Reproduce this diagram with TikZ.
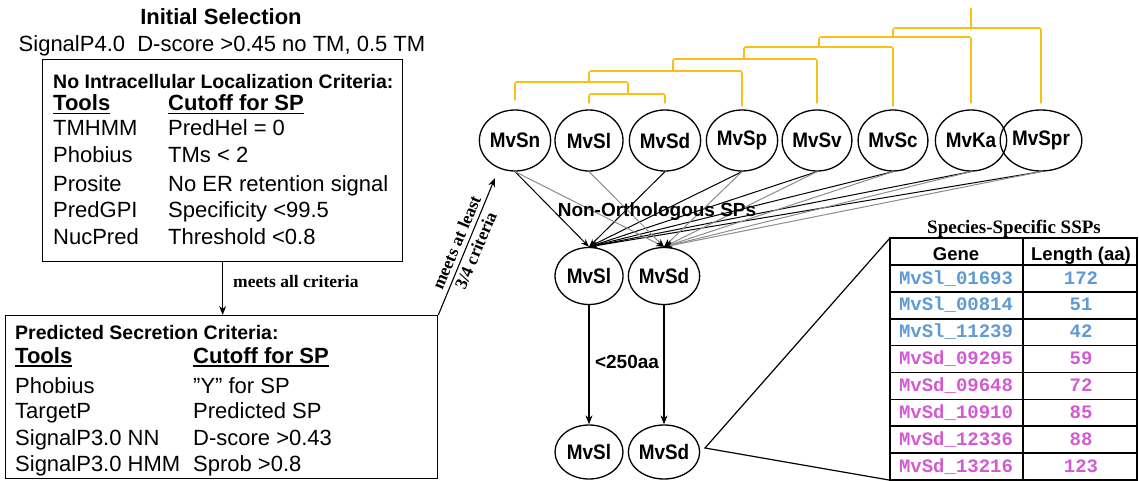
\documentclass[tikz,border=0pt]{standalone}
\usepackage{fontspec}
\setmainfont{Liberation Sans}
\newfontfamily\tnr{Liberation Serif}
\newfontfamily\cour{Liberation Mono}
\newfontfamily\narrowsans[FakeStretch=0.9]{Liberation Sans}
\usetikzlibrary{arrows.meta,shapes.geometric}
\definecolor{treecol}{RGB}{250,190,20}
\definecolor{geneblue}{RGB}{95,155,210}
\definecolor{genemag}{RGB}{210,90,210}
\newcommand\myul[1]{\setbox0\hbox{#1}\rlap{\rule[-3.5pt]{\wd0}{1.8pt}}\box0}
\newcommand\fs[1]{\fontsize{#1}{#1}\selectfont}
\begin{document}
\begin{tikzpicture}[x=1pt,y=-1pt,
  lbl/.style={inner sep=0pt,anchor=base west,font=\fs{22}},
  hdr/.style={inner sep=0pt,anchor=base west,font=\fs{19.5}\bfseries},
  colh/.style={inner sep=0pt,anchor=base west,font=\fs{22}\bfseries},
  boxs/.style={draw,line width=1.3pt,inner sep=0pt,anchor=north west},
  spc/.style={ellipse,draw,line width=1.3pt,minimum width=68pt,minimum height=61pt,inner sep=0pt,font=\fs{21}\narrowsans\bfseries},
  spm/.style={spc,minimum height=57pt},
  trl/.style={draw=treecol,line width=1.6pt,rounded corners=2pt},
  arr/.style={-{Stealth[length=9pt,width=7pt]},line width=1.1pt},
  arrk/.style={-{Stealth[length=8pt,width=6pt]},line width=1pt,black},
  arrg/.style={-{Stealth[length=8pt,width=6pt,color=black]},line width=1pt,black!45},
  tbl/.style={line width=1.6pt},
  ser/.style={font=\fontsize{17.5}{21}\selectfont\tnr\bfseries,inner sep=0pt}]
\useasboundingbox (0,0) rectangle (1139,481);

% ---------- left part ----------
\node[inner sep=0pt,anchor=base,font=\fs{22}\bfseries] (init) at (221,25) {Initial Selection};
\node[inner sep=0pt,anchor=base,font=\fs{22}] (sp4) at (222,52) {SignalP4.0\ \ D-score >0.45 no TM, 0.5 TM};

\node[boxs,minimum width=360pt,minimum height=202pt] (b1) at (42,59) {};
\node[hdr] (b1h) at (53,89) {No Intracellular Localization Criteria:};
\node[colh] (b1t) at (53,111) {\myul{Tools}};
\node[colh] (b1c) at (168,111) {\myul{Cutoff for SP}};
\foreach \i/\y/\a/\b in {1/136/TMHMM/PredHel = 0,2/163/Phobius/TMs < 2,3/191/Prosite/No ER retention signal,4/217/PredGPI/Specificity <99.5,5/244/NucPred/Threshold <0.8}{
  \node[lbl] (b1a\i) at (53,\y) {\a};
  \node[lbl] (b1b\i) at (168,\y) {\b};
}

\node[boxs,minimum width=432pt,minimum height=163pt] (b2) at (5,315) {};
\node[hdr] (b2h) at (15,339) {Predicted Secretion Criteria:};
\node[colh] (b2t) at (15,363) {\myul{Tools}};
\node[colh] (b2c) at (193,363) {\myul{Cutoff for SP}};
\foreach \i/\y/\a/\b in {1/393/Phobius/”Y” for SP,2/418/TargetP/Predicted SP,3/445/SignalP3.0 NN/D-score >0.43,4/471/SignalP3.0 HMM/Sprob >0.8}{
  \node[lbl] (b2a\i) at (15,\y) {\a};
  \node[lbl] (b2b\i) at (193,\y) {\b};
}

\draw[arr] (b1.south) -- (b1.south |- b2.north);
\node[ser,anchor=base west] (mall) at (233,287) {meets all criteria};

\coordinate (atip) at (495,178);
\draw[arr] (b2.north east) -- (atip);
\node[ser,rotate=67,align=center] (m34) at (466,246.5) {meets at least\\3/4 criteria};

% ---------- species circles ----------
\foreach \n/\x/\t in {Sn/515/MvSn,Sl/589/MvSl,Sd/665/MvSd,Sp/742/MvSp,Sv/817/MvSv,Sc/893/MvSc,Ka/971/MvKa,Spr/1041/MvSpr}{
  \node[spc] (t\n) at (\x,140.5) {\t};
}
\node[spm] (mSl) at (589,276) {MvSl};
\node[spm] (mSd) at (664,276) {MvSd};
\node[spm,minimum height=54pt] (bSl) at (589,452) {MvSl};
\node[spm,minimum height=54pt] (bSd) at (664,452) {MvSd};

% ---------- tree ----------
\draw[trl] (971,8) -- (971,28);
\draw[trl] (893,37) -- (893,28) -- (1041,28) -- ([yshift=6pt]tSpr.north);
\draw[trl] (819,47) -- (819,37) -- (971,37) -- ([yshift=6pt]tKa.north);
\draw[trl] (744,59) -- (744,47) -- (893,47) -- ([yshift=3pt]tSc.north);
\draw[trl] (673,71) -- (673,59) -- (817,59) -- ([yshift=6pt]tSv.north);
\draw[trl] (589,82) -- (589,71) -- (742,71) -- ([yshift=3pt]tSp.north);
\draw[trl] ([yshift=9pt]tSn.north) -- (515,82) -- (628,82) -- (628,94);
\draw[trl] ([yshift=6pt]tSl.north) -- (589,94) -- (665,94) -- ([yshift=6pt]tSd.north);

% ---------- non-orthologous arrows ----------
\foreach \n in {Sn,Sd,Sp,Sv,Sc,Ka,Spr}{
  \draw[arrk] (t\n.south) -- (mSl.north);
}
\foreach \n in {Sn,Sl,Sp,Sv,Sc,Ka,Spr}{
  \draw[arrg] (t\n.south) -- (mSd.north);
}
\node[inner sep=0pt,anchor=base,font=\fs{19}\bfseries] (nonorth) at (657,216) {Non-Orthologous SPs};

\draw[arr] (mSl.south) -- (bSl.north);
\draw[arr] (mSd.south) -- (bSd.north);
\node[inner sep=0pt,anchor=base,font=\fs{19}\bfseries] (len) at (627,368) {<250aa};

% ---------- table ----------
\coordinate (apex) at (705,448);
\coordinate (ttl) at (890,238);
\coordinate (tbl) at (889,480);
\draw[line width=1.2pt] (ttl) -- (apex) -- (tbl);
\node[inner sep=0pt,anchor=base,font=\fs{19}\tnr\bfseries] (ttitle) at (1014,233) {Species-Specific SSPs};
\draw[tbl] (890,238) rectangle (1137,480);
\draw[tbl] (1023,238) -- (1023,480);
\draw[tbl] (890,265) -- (1137,265);
\foreach \k in {1,...,7}{
  \draw[tbl] (890,265+26.875*\k) -- (1137,265+26.875*\k);
}
\node[inner sep=0pt,anchor=base,font=\fs{18.5}\bfseries] (thg) at (956,260) {Gene};
\node[inner sep=0pt,anchor=base,font=\fs{18.5}\bfseries] (thl) at (1081,260) {Length (aa)};
\foreach \k/\g/\l/\c in {0/MvSl\_01693/172/geneblue,1/MvSl\_00814/51/geneblue,2/MvSl\_11239/42/geneblue,3/MvSd\_09295/59/genemag,4/MvSd\_09648/72/genemag,5/MvSd\_10910/85/genemag,6/MvSd\_12336/88/genemag,7/MvSd\_13216/123/genemag}{
  \node[inner sep=0pt,anchor=base,font=\fs{19}\cour\bfseries,text=\c] (g\k) at (956,284+26.875*\k) {\g};
  \node[inner sep=0pt,anchor=base,font=\fs{19}\cour\bfseries,text=\c] (l\k) at (1081,284+26.875*\k) {\l};
}
\end{tikzpicture}
\end{document}
